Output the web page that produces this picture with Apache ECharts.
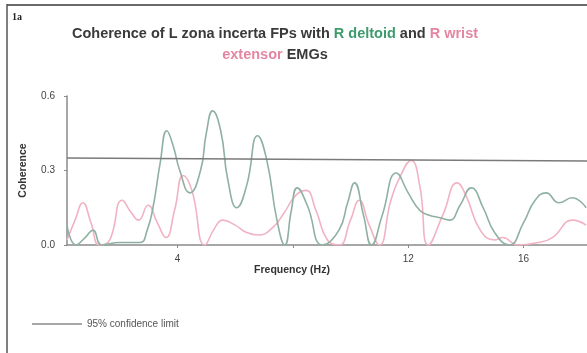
<!DOCTYPE html>
<html><head><meta charset="utf-8">
<script src="https://cdn.jsdelivr.net/npm/echarts@6/dist/echarts.min.js"></script>
<style>html,body{margin:0;padding:0;background:#fff}#c{width:587px;height:353px}</style>
</head><body><div id="c"></div>
<script>
// Frequency (Hz) / coherence pairs
const deltoidFreq = [0.17,0.48,0.8,1.07,1.38,2.0,2.7,2.95,3.15,3.4,3.63,3.85,4.08,4.43,4.8,5.0,5.22,5.5,5.75,6.06,6.4,6.78,7.1,7.45,7.72,7.95,8.15,8.5,9.03,9.6,9.9,10.14,10.45,10.73,11.1,11.59,12.0,12.4,12.73,13.1,13.43,13.8,14.19,14.6,15.0,15.5,16.0,16.4,16.78,17.23,17.68,18.17];
const deltoidCoh  = [0.08,0.0,0.03,0.06,0.0,0.01,0.01,0.06,0.15,0.33,0.46,0.40,0.30,0.21,0.30,0.45,0.54,0.46,0.26,0.15,0.24,0.44,0.34,0.10,0.0,0.14,0.23,0.16,0.0,0.06,0.17,0.25,0.12,0.0,0.12,0.29,0.21,0.14,0.12,0.11,0.10,0.16,0.23,0.15,0.05,0.0,0.09,0.18,0.21,0.17,0.19,0.15];
const wristFreq = [0.17,0.45,0.72,1.0,1.3,1.65,2.08,2.4,2.65,2.98,3.3,3.6,3.9,4.2,4.5,4.95,5.3,5.57,6.0,6.4,6.8,7.3,7.7,8.1,8.45,8.8,9.2,9.6,10.0,10.3,10.65,11.0,11.4,11.7,12.1,12.4,12.7,13.2,13.7,14.0,14.5,15.0,15.27,15.8,16.5,17.0,17.7,18.17];
const wristCoh  = [0.02,0.10,0.17,0.09,0.0,0.02,0.18,0.13,0.10,0.16,0.09,0.03,0.14,0.28,0.22,0.0,0.07,0.10,0.08,0.05,0.04,0.07,0.13,0.20,0.22,0.14,0.02,0.0,0.10,0.18,0.08,0.0,0.18,0.27,0.34,0.24,0.0,0.12,0.25,0.20,0.06,0.02,0.03,0.0,0.01,0.03,0.10,0.08];
const limitFreq = [0.17,18.2];
const limitCoh  = [0.350,0.338];
const xTicks = [4,8,12,16];
const xLabels = [4,12,16];
const yTicks = [0,0.3,0.6];

const pairs = (xs, ys) => xs.map((x,i)=>[x, ys[i]]);
const chart = echarts.init(document.getElementById('c'), null, {renderer:'canvas'});
const tf = {fontFamily:'Liberation Sans',fontWeight:'bold',fontSize:14.5,lineHeight:21};
chart.setOption({
  animation:false,
  backgroundColor:'#fff',
  title:{
    text:'{k|Coherence of L zona incerta FPs with }{g|R deltoid}{k| and }{p|R wrist}\n{p|extensor}{k| EMGs}',
    left:270, top:18, textAlign:'center',
    textStyle:{rich:{
      k:Object.assign({color:'#3a3a3a'},tf),
      g:Object.assign({color:'#3f9b6c'},tf),
      p:Object.assign({color:'#e486a1'},tf)
    }}
  },
  grid:{left:67, right:0, top:96, bottom:108, containLabel:false, outerBoundsMode:'none'},
  legend:{
    data:[{name:'95% confidence limit', icon:'rect'}],
    left:27, top:314, itemWidth:50, itemHeight:1.5, itemGap:10,
    textStyle:{fontFamily:'Liberation Sans',fontSize:10,color:'#555'}
  },
  xAxis:{
    type:'value', min:0.17, max:18.2,
    name:'Frequency (Hz)', nameLocation:'middle', nameGap:17,
    nameTextStyle:{fontFamily:'Liberation Sans',fontWeight:'bold',fontSize:10.5,color:'#333',padding:[0,70,0,0]},
    splitLine:{show:false},
    axisLine:{lineStyle:{color:'#8a8a8a',width:1.5}},
    axisTick:{customValues:xTicks,length:3,lineStyle:{color:'#8a8a8a'}},
    axisLabel:{customValues:xLabels,fontFamily:'Liberation Sans',fontSize:10,color:'#444',margin:9}
  },
  yAxis:{
    type:'value', min:0, max:0.6,
    name:'Coherence', nameLocation:'middle', nameGap:38, nameRotate:90,
    nameTextStyle:{fontFamily:'Liberation Sans',fontWeight:'bold',fontSize:10.5,color:'#333'},
    splitLine:{show:false},
    axisLine:{show:true,lineStyle:{color:'#8a8a8a',width:1.5}},
    axisTick:{show:true,customValues:yTicks,length:3,lineStyle:{color:'#8a8a8a'}},
    axisLabel:{customValues:yTicks,formatter:v=>v.toFixed(1),fontFamily:'Liberation Sans',fontSize:10,color:'#444',margin:12}
  },
  series:[
    {name:'R wrist extensor', type:'line', data:pairs(wristFreq,wristCoh), smooth:0.5, symbol:'none',
     lineStyle:{color:'#f1b3c3',width:1.6}, z:2},
    {name:'R deltoid', type:'line', data:pairs(deltoidFreq,deltoidCoh), smooth:0.5, symbol:'none',
     lineStyle:{color:'#8fb1a3',width:1.6}, z:3},
    {name:'95% confidence limit', type:'line', data:pairs(limitFreq,limitCoh), symbol:'none',
     lineStyle:{color:'#7a7a7a',width:1.5}, itemStyle:{color:'#8a8a8a'}, z:4}
  ],
  graphic:[
    {type:'line', shape:{x1:7,y1:5,x2:587,y2:5}, style:{stroke:'#6a6a6a',lineWidth:2}},
    {type:'line', shape:{x1:7,y1:4,x2:7,y2:353}, style:{stroke:'#555',lineWidth:1.5}},
    {type:'text', left:12, top:12, style:{text:'1a',font:'bold 10px "Liberation Serif"',fill:'#222'}}
  ]
});
</script></body></html>
